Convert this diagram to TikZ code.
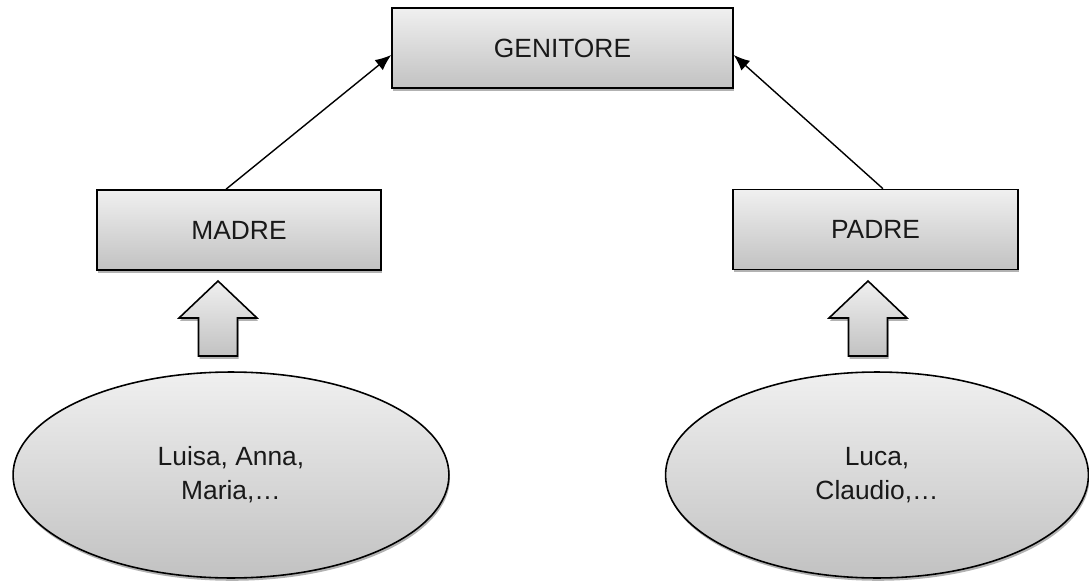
\documentclass[tikz,border=0pt]{standalone}
\usepackage{fontspec}
\setmainfont{Liberation Sans}
\usepackage{tikz}
\usetikzlibrary{arrows.meta,shadows,shapes.geometric}

\begin{document}
\begin{tikzpicture}[x=0.02cm, y=-0.02cm, >={Latex[length=3.2mm,width=2.6mm]},
  every node/.style={font=\fontsize{15}{19.3}\selectfont, text=black!90},
  grigio/.style={draw=black, line width=0.9pt, shading=axis,
    top color=black!6, bottom color=black!24,
    drop shadow={shadow xshift=0.6pt, shadow yshift=-1.6pt, opacity=0.3, fill=black}},
  box/.style={grigio, rectangle, minimum height=1.6cm},
  insieme/.style={grigio, ellipse, align=center, inner sep=0pt, minimum height=4.12cm}]
  \useasboundingbox (0,0) rectangle (1089,581);
  % Classi
  \node[box, minimum width=6.82cm] (genitore) at (562.5,48) {GENITORE};
  \node[box, minimum width=5.68cm] (madre) at (239,230) {MADRE};
  \node[box, minimum width=5.7cm] (padre) at (875.5,229.5) {PADRE};
  \draw[->, line width=0.8pt] ([xshift=-0.26cm]madre.north) -- ([yshift=-0.14cm]genitore.west);
  \draw[->, line width=0.8pt] ([xshift=0.15cm]padre.north) -- ([yshift=-0.14cm]genitore.east);
  % Frecce di istanza
  \foreach \cx in {218,868}
    \draw[grigio] (\cx,281) -- (\cx+39,318) -- (\cx+19.5,318) -- (\cx+19.5,356)
      -- (\cx-19.5,356) -- (\cx-19.5,318) -- (\cx-39,318) -- cycle;
  % Istanze
  \node[insieme, minimum width=8.72cm] (nomiF) at (231,475) {Luisa, Anna,\\Maria,\dots};
  \node[insieme, minimum width=8.46cm] (nomiM) at (877,475) {Luca,\\Claudio,\dots};
\end{tikzpicture}
\end{document}
